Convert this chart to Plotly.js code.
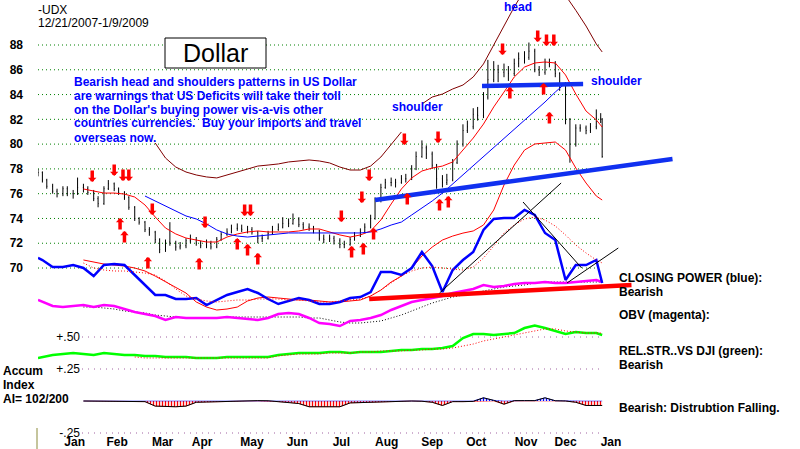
<!DOCTYPE html>
<html><head><meta charset="utf-8">
<script src="https://cdn.plot.ly/plotly-3.0.1.min.js"></script>
<style>html,body{margin:0;padding:0;background:#fff}#chart{width:800px;height:449px}</style>
</head><body><div id="chart"></div>
<script>
// ---------- DATA ----------
const dates = ['2007-12-21','2007-12-24','2007-12-27','2007-12-31','2008-01-03','2008-01-07','2008-01-10','2008-01-14','2008-01-17','2008-01-21','2008-01-24','2008-01-28','2008-01-31','2008-02-04','2008-02-07','2008-02-11','2008-02-14','2008-02-18','2008-02-21','2008-02-25','2008-02-28','2008-03-03','2008-03-06','2008-03-10','2008-03-13','2008-03-17','2008-03-20','2008-03-24','2008-03-27','2008-03-31','2008-04-03','2008-04-07','2008-04-10','2008-04-14','2008-04-17','2008-04-21','2008-04-24','2008-04-28','2008-05-01','2008-05-05','2008-05-08','2008-05-12','2008-05-15','2008-05-19','2008-05-22','2008-05-26','2008-05-29','2008-06-02','2008-06-05','2008-06-09','2008-06-12','2008-06-16','2008-06-19','2008-06-23','2008-06-26','2008-06-30','2008-07-03','2008-07-07','2008-07-10','2008-07-14','2008-07-17','2008-07-21','2008-07-24','2008-07-28','2008-07-31','2008-08-04','2008-08-07','2008-08-11','2008-08-14','2008-08-18','2008-08-21','2008-08-25','2008-08-28','2008-09-01','2008-09-04','2008-09-08','2008-09-11','2008-09-15','2008-09-18','2008-09-22','2008-09-25','2008-09-29','2008-10-02','2008-10-06','2008-10-09','2008-10-13','2008-10-16','2008-10-20','2008-10-23','2008-10-27','2008-10-30','2008-11-03','2008-11-06','2008-11-10','2008-11-13','2008-11-17','2008-11-20','2008-11-24','2008-11-27','2008-12-01','2008-12-04','2008-12-08','2008-12-11','2008-12-15','2008-12-18','2008-12-22','2008-12-25','2008-12-29','2009-01-01','2009-01-05','2009-01-08','2009-01-09'];
const firstOpen = 77.9;
const close = [77.7,77.1,76.6,76.2,76.0,76.4,76.0,76.0,76.5,76.4,76.1,75.6,75.2,76.4,76.8,76.4,76.1,75.7,74.9,74.0,73.7,73.1,72.9,72.3,71.5,72.1,72.0,71.7,71.8,72.2,72.3,72.0,71.8,72.0,71.7,72.3,72.7,72.9,73.2,73.2,73.1,73.1,72.9,72.4,72.4,72.8,73.1,73.3,73.6,73.6,73.9,73.5,73.3,73.2,73.0,72.4,72.3,72.4,72.2,71.9,71.9,72.3,72.6,72.9,73.3,74.0,75.5,76.5,76.9,76.9,76.9,77.2,77.2,78.0,79.0,79.7,79.2,78.3,77.2,76.9,77.1,78.5,80.0,81.1,81.4,82.4,82.3,83.8,85.2,86.0,85.8,86.0,85.7,86.5,86.9,87.0,87.5,86.0,85.8,86.6,86.5,85.7,84.9,82.0,80.0,81.3,81.3,81.1,81.4,82.1,82.0,79.0];
const high = [78.0,77.8,77.2,76.8,76.4,76.6,76.6,76.3,77.3,76.8,76.6,76.3,75.8,76.6,77.1,76.9,76.5,76.2,75.8,75.0,74.1,73.8,73.3,73.0,72.4,72.3,73.7,72.2,72.1,72.4,72.7,72.5,72.2,72.3,72.2,72.5,72.9,73.2,73.5,73.6,73.5,73.4,73.3,73.0,72.7,73.0,73.4,73.6,74.1,74.0,74.4,74.1,73.7,73.6,73.4,73.1,72.7,72.7,72.6,72.4,72.2,72.5,72.9,73.2,73.6,74.3,75.7,76.8,77.2,77.3,77.2,77.5,77.6,78.3,79.4,80.3,79.9,79.4,78.4,77.5,77.6,78.8,80.3,81.6,81.9,82.9,83.0,84.2,86.8,86.7,86.4,86.5,86.3,86.9,87.4,87.5,88.2,87.7,86.3,86.9,86.9,86.7,85.8,85.0,82.1,81.6,81.6,81.5,81.7,82.8,82.5,82.1];
const low = [77.4,76.9,76.4,76.0,75.7,75.8,75.8,75.6,75.9,76.1,75.9,75.4,74.9,75.1,76.3,76.2,75.9,75.5,74.7,73.8,73.5,72.9,72.6,72.0,71.2,71.3,71.8,71.4,71.5,71.6,72.0,71.8,71.6,71.6,71.5,71.6,72.2,72.6,72.8,73.0,72.9,72.8,72.7,72.0,72.1,72.3,72.7,73.0,73.2,73.3,73.5,73.3,73.1,73.0,72.8,72.2,72.0,72.1,71.9,71.6,71.6,71.8,72.2,72.5,72.8,73.2,73.9,75.3,76.4,76.6,76.5,76.8,76.9,77.1,77.9,78.9,78.8,78.0,76.4,76.5,76.7,77.0,78.4,79.8,80.9,81.2,81.9,82.1,83.6,85.0,85.0,85.4,85.1,85.5,86.2,86.5,86.8,85.8,85.5,85.6,86.2,85.4,84.3,81.6,78.5,79.8,81.0,80.8,80.9,81.2,81.7,78.9];

const weeks = ['2007-12-21','2007-12-24','2007-12-31','2008-01-07','2008-01-14','2008-01-21','2008-01-28','2008-02-04','2008-02-11','2008-02-18','2008-02-25','2008-03-03','2008-03-10','2008-03-17','2008-03-24','2008-03-31','2008-04-07','2008-04-14','2008-04-21','2008-04-28','2008-05-05','2008-05-12','2008-05-19','2008-05-26','2008-06-02','2008-06-09','2008-06-16','2008-06-23','2008-06-30','2008-07-07','2008-07-14','2008-07-21','2008-07-28','2008-08-04','2008-08-11','2008-08-18','2008-08-25','2008-09-01','2008-09-08','2008-09-15','2008-09-22','2008-09-29','2008-10-06','2008-10-13','2008-10-20','2008-10-27','2008-11-03','2008-11-10','2008-11-17','2008-11-24','2008-12-01','2008-12-08','2008-12-15','2008-12-22','2008-12-29','2009-01-05','2009-01-09'];
const redMA = [null,null,null,null,null,76.38,76.22,76.05,76.05,75.97,75.73,75.09,74.12,73.23,72.75,72.42,72.26,72.10,72.10,72.50,72.75,72.91,72.99,72.91,72.91,72.91,72.99,73.15,73.15,72.91,72.67,72.50,72.67,72.99,73.88,75.17,76.38,77.27,77.83,78.07,78.23,78.56,79.52,80.49,81.62,83.00,84.20,85.42,86.22,86.55,86.63,86.55,85.58,84.04,82.67,81.95,81.38];
const blueMA = [null,null,null,null,null,null,null,null,null,null,null,75.81,75.41,75.01,74.61,74.20,73.96,73.56,73.07,72.75,72.58,72.50,72.58,72.67,72.75,72.83,72.83,72.83,72.83,72.83,72.83,72.83,72.83,72.91,73.15,73.47,73.71,74.28,74.84,75.41,76.05,76.78,77.51,78.23,79.04,79.77,80.49,81.22,81.95,82.67,83.40,84.20,84.93,null,null,null,null];
const lowerBand = [null,null,null,null,null,70.65,70.48,70.32,70.24,70.16,70.00,69.76,69.35,68.87,68.39,67.98,67.26,66.85,66.61,66.69,66.85,67.34,67.58,67.66,67.58,67.50,67.42,67.42,67.34,67.26,67.26,67.34,67.42,67.74,68.22,68.87,69.35,70.00,70.97,71.69,72.26,72.58,72.82,72.99,73.47,74.68,76.70,78.31,79.52,80.01,80.09,80.17,79.52,78.07,76.86,75.81,75.49];
const upperBand = [null,null,null,null,null,null,null,null,null,null,null,null,80.09,78.88,78.15,77.75,77.51,77.35,77.27,77.51,77.75,77.99,78.23,78.31,78.40,78.56,78.64,78.72,78.64,78.48,78.15,77.91,77.91,78.23,78.96,79.93,80.98,null,83.24,83.80,84.04,84.45,84.77,85.42,86.47,88.00,89.61,91.07,92.44,92.84,92.84,92.44,92.00,90.80,89.53,88.08,87.44];
// indicator index units (closing power, OBV)
const closingPower = [191,189,182,182,184,181,173,184,185,184,174,164,154,154,150,150,151,144,149,154,157,160,156,150,145,148,151,149,145,145,147,151,152,157,177,177,174,181,197,183,157,179,189,197,219,230,231,231,239,234,216,209,169,184,184,189,166];
const closingPowerMA = [null,null,null,null,null,186,181,179,178,178,177,176,174,168,160,153,150,148,147,148,149,149,150,150,150,149,149,148,147,147,148,149,150,153,159,166,173,178,181,182,181,180,179,182,191,203,216,224,230,232,229,223,214,204,196,189,186];
const obv = [149,147,143,142,143,144,142,144,143,140,137,135,133,129,132,131,131,131,131,132,131,130,129,131,135,136,135,131,126,125,123,128,129,131,134,139,143,147,149,151,153,156,158,160,164,162,163,165,166,166,167,166,166,167,168,169,167];
const obvMA = [null,null,null,null,null,142,142,141,140,138,137,136,134,133,132,131,131,131,131,132,132,132,132,132,132,132,132,131,131,129,127,126,126,127,128,131,134,138,142,146,149,152,154,156,158,160,162,163,164,166,167,167,167,167,167,167,167];
const relStr = [0.336,0.344,0.359,0.367,0.375,0.367,0.359,0.375,0.367,0.359,0.359,0.352,0.352,0.344,0.344,0.344,0.336,0.336,0.336,0.344,0.344,0.344,0.344,0.344,0.359,0.367,0.375,0.375,0.375,0.383,0.383,0.375,0.383,0.383,0.383,0.391,0.398,0.398,0.406,0.406,0.414,0.430,0.492,0.523,0.523,0.516,0.523,0.531,0.570,0.590,0.570,0.547,0.523,0.539,0.531,0.531,0.516];
const relStrMA = [null,null,null,null,null,null,null,null,null,null,0.344,0.336,0.336,0.336,0.336,0.336,0.336,0.336,0.336,0.336,0.336,0.336,0.336,0.336,0.352,0.359,0.367,0.367,0.367,0.375,0.375,0.375,0.383,0.383,0.391,0.391,0.391,0.398,0.398,0.406,0.406,0.414,0.430,0.445,0.469,0.484,0.500,0.516,0.531,0.547,0.563,0.563,0.547,0.539,0.531,0.531,0.531];
const accumIndex = [null,null,null,null,null,0,0,0,0,0,0,-0.005,-0.04,-0.045,-0.045,-0.04,-0.01,-0.008,-0.005,-0.002,0,0.003,0.003,0.002,-0.005,-0.01,-0.02,-0.045,-0.045,-0.045,-0.045,-0.015,-0.012,-0.008,-0.005,-0.002,0,0,-0.002,-0.01,-0.035,-0.005,-0.005,-0.003,0.025,0.005,-0.025,0.003,0.003,0.003,0.025,0.002,0,-0.01,-0.035,-0.035,-0.035];

// trend lines (endpoints)
const necklineX = ['2008-08-07','2009-02-26'], necklineY = [75.49, 78.80];
const shoulderX = ['2008-10-19','2008-12-27'], shoulderY = [84.69, 84.85];
const cpSupportX = ['2008-08-03','2009-01-29'], cpSupportY = [150, 164];
const cpUpX = ['2008-09-20','2008-12-12'], cpUpY = [156, 266];
const cpDownX = ['2008-11-16','2008-12-26'], cpDownY = [247, 181];
const cpUp2X = ['2008-12-16','2009-01-20'], cpUp2Y = [166, 201];

// signal arrows
const downX = ['2008-01-27','2008-02-11','2008-02-17','2008-02-21','2008-03-08','2008-04-13','2008-05-10','2008-05-14','2008-07-15','2008-07-29','2008-08-03','2008-08-27','2008-09-19','2008-11-02','2008-11-26','2008-12-02','2008-12-07'];
const downY = [76.94,77.43,77.02,77.02,74.28,73.23,74.20,74.20,73.71,75.25,77.02,79.93,80.09,87.19,88.24,87.92,87.92];
const upX = ['2008-02-15','2008-02-18','2008-03-05','2008-04-09','2008-05-05','2008-05-12','2008-05-19','2008-07-22','2008-07-30','2008-08-06','2008-08-29','2008-09-20','2008-09-26','2008-11-07','2008-11-30','2008-12-04'];
const upY = [74.04,72.99,70.89,70.81,72.42,71.94,71.21,71.78,72.02,73.23,76.05,75.57,75.81,84.61,84.93,82.59];

const monthTicks = ['2008-01-15','2008-02-13','2008-03-15','2008-04-11','2008-05-15','2008-06-15','2008-07-15','2008-08-15','2008-09-15','2008-10-15','2008-11-18','2008-12-15','2009-01-15'];
const monthLabels = ['Jan','Feb','Mar','Apr','May','Jun','Jul','Aug','Sep','Oct','Nov','Dec','Jan'];
const priceTicks = [70,72,74,76,78,80,82,84,86,88];
const lowerTicks = [0.5,0.25,-0.25];
const lowerTickLabels = ['+.50','+.25','-.25'];

// ---------- LAYOUT HELPERS ----------
const FONT = 'Liberation Sans, Arial, sans-serif';
const W = 800, H = 449, L = 38;
const X = px => (px - L) / (W - L);
const Y = py => (H - py) / H;

const open = close.map((c, i) => i === 0 ? firstOpen : close[i - 1]);
const aiNeg = accumIndex.map(v => v === null ? null : Math.min(v, 0));
const aiPos = accumIndex.map(v => v === null ? null : Math.max(v, 0));

const line = (x, y, color, width, extra) => Object.assign({type:'scatter', mode:'lines', x, y, line:{color, width}, hoverinfo:'skip', connectgaps:false}, extra || {});

const traces = [
  line(weeks, upperBand, '#800000', 1),
  line(weeks, lowerBand, '#ff0000', 1),
  line(weeks, redMA, '#ff0000', 1),
  line(weeks, blueMA, '#0000ff', 1),
  {type:'ohlc', x:dates, open, high, low, close, tickwidth:0.35,
   increasing:{line:{color:'#000', width:1}}, decreasing:{line:{color:'#000', width:1}}, hoverinfo:'skip'},
  line(necklineX, necklineY, '#1030f0', 4.5),
  line(shoulderX, shoulderY, '#1030f0', 4.5),
  // lower indicators
  line(weeks, obvMA, '#000000', 1, {yaxis:'y3', line:{color:'#000', width:1, dash:'1px,2px'}}),
  line(weeks, obv, '#ff00ff', 2.5, {yaxis:'y3'}),
  line(cpSupportX, cpSupportY, '#ff0000', 4.5, {yaxis:'y3'}),
  line(weeks, closingPower, '#0000ff', 2.5, {yaxis:'y3'}),
  line(weeks, closingPowerMA, '#ff0000', 1, {yaxis:'y3', line:{color:'#ff0000', width:1, dash:'1px,2px'}}),
  line(cpUpX, cpUpY, '#000', 1, {yaxis:'y3'}),
  line(cpDownX, cpDownY, '#000', 1, {yaxis:'y3'}),
  line(cpUp2X, cpUp2Y, '#000', 1, {yaxis:'y3'}),
  line(weeks, relStr, '#00ff00', 2.5, {yaxis:'y2'}),
  line(weeks, relStrMA, '#ff0000', 1, {yaxis:'y2', line:{color:'#ff0000', width:1, dash:'1px,2px'}}),
  line(weeks, aiNeg, '#ff0000', 0.5, {yaxis:'y2', fill:'tozeroy', fillcolor:'rgba(255,0,0,0.15)',
     fillpattern:{shape:'|', fgcolor:'#ff0000', bgcolor:'#ffffff', size:3, solidity:0.45}}),
  line(weeks, aiPos, '#0000ff', 0.5, {yaxis:'y2', fill:'tozeroy', fillcolor:'rgba(0,0,255,0.15)',
     fillpattern:{shape:'|', fgcolor:'#0000ff', bgcolor:'#ffffff', size:3, solidity:0.45}}),
  line(weeks, accumIndex, '#000000', 1, {yaxis:'y2'})
];

const shapes = [];
priceTicks.forEach(v => shapes.push({type:'line', xref:'paper', yref:'y', x0:0, x1:X(602), y0:v, y1:v, layer:'below',
  line:{color:'#008000', width:1, dash:'1px,3px'}}));
lowerTicks.forEach(v => shapes.push({type:'line', xref:'paper', yref:'y2', x0:X(82), x1:X(600), y0:v, y1:v, layer:'below',
  line:{color:'#a060a0', width:1, dash:'1px,5px'}}));
shapes.push({type:'rect', xref:'paper', yref:'paper', x0:X(165), x1:X(266), y0:Y(68), y1:Y(38), fillcolor:'#fff', line:{color:'#000', width:1}});
shapes.push({type:'line', xref:'paper', yref:'paper', x0:X(37), x1:X(37), y0:0, y1:Y(428), line:{color:'#8b8b3a', width:1}});

const annotations = [];
const txt = (text, px, py, size, color, weight, anchor) => annotations.push({text, xref:'paper', yref:'paper', x:X(px), y:Y(py),
  xanchor:anchor || 'left', yanchor:'middle', showarrow:false, borderpad:0, font:{family:FONT, size, color, weight}});
txt('-UDX', 37, 10, 12, '#000', 'normal');
txt('12/21/2007-1/9/2009', 37, 22.5, 12, '#000', 'normal');
txt('Dollar', 215, 53, 25, '#000', 'normal', 'center');
const blueLines = ['Bearish head and shoulders patterns in US Dollar','are warnings that US Deficits will take their toll',
  "on the Dollar's buying power vis-a-vis other",'countries currencies.  Buy your imports and travel','overseas now.'];
const blueY = [82, 95.5, 109.5, 123, 137.5];
blueLines.forEach((t, i) => txt(t, 73, blueY[i], 12, '#0000ff', 'bold'));
txt('head', 518, 7, 12, '#0000ff', 'bold', 'center');
txt('shoulder', 417, 107, 12, '#0000ff', 'bold', 'center');
txt('shoulder', 590, 81, 12, '#0000ff', 'bold');
txt('CLOSING POWER (blue):', 618, 278, 12, '#000', 'bold');
txt('Bearish', 618, 292, 12, '#000', 'bold');
txt('OBV (magenta):', 618, 315, 12, '#000', 'bold');
txt('REL.STR..VS DJI (green):', 618, 351, 12, '#000', 'bold');
txt('Bearish', 618, 365, 12, '#000', 'bold');
txt('Bearish: Distrubtion Falling.', 618, 408, 12, '#000', 'bold');
txt('Accum', 2, 371, 12, '#000', 'bold');
txt('Index', 2, 385, 12, '#000', 'bold');
txt('AI= 102/200', 2, 399, 12, '#000', 'bold');

const arrow = (x, y, ay) => ({x, y, xref:'x', yref:'y', text:'', showarrow:true, arrowhead:1, arrowsize:0.4,
  arrowwidth:3.5, arrowcolor:'#ff0000', ax:0, ay, standoff:0});
downX.forEach((x, i) => annotations.push(arrow(x, downY[i], -13)));
upX.forEach((x, i) => annotations.push(arrow(x, upY[i], 13)));

const layout = {
  width:W, height:H, margin:{l:L, r:0, t:0, b:0, pad:0},
  paper_bgcolor:'#fff', plot_bgcolor:'#fff', showlegend:false,
  font:{family:FONT, size:12, color:'#000'},
  xaxis:{type:'date', range:['2007-12-21','2009-05-24'], anchor:'free', position:0.036,
    tickvals:monthTicks, ticktext:monthLabels, ticks:'', showgrid:false, zeroline:false, showline:false,
    tickfont:{family:FONT, size:12, color:'#000', weight:'bold'}, rangeslider:{visible:false}, fixedrange:true},
  yaxis:{range:[55.393, 91.632], tickvals:priceTicks, ticks:'', showgrid:false, zeroline:false, showline:false,
    ticklabelstandoff:14, tickfont:{family:FONT, size:12, color:'#000', weight:'bold'}, fixedrange:true},
  yaxis2:{overlaying:'y', anchor:'free', position:X(80), side:'left', range:[-0.375, 3.1328],
    tickvals:lowerTicks, ticktext:lowerTickLabels, ticks:'', showgrid:false, zeroline:false, showline:false,
    tickfont:{family:FONT, size:12, color:'#000'}, fixedrange:true},
  yaxis3:{overlaying:'y', range:[0, 449], visible:false, fixedrange:true},
  shapes, annotations
};

Plotly.newPlot('chart', traces, layout, {displayModeBar:false, staticPlot:true});
</script>
</body></html>
